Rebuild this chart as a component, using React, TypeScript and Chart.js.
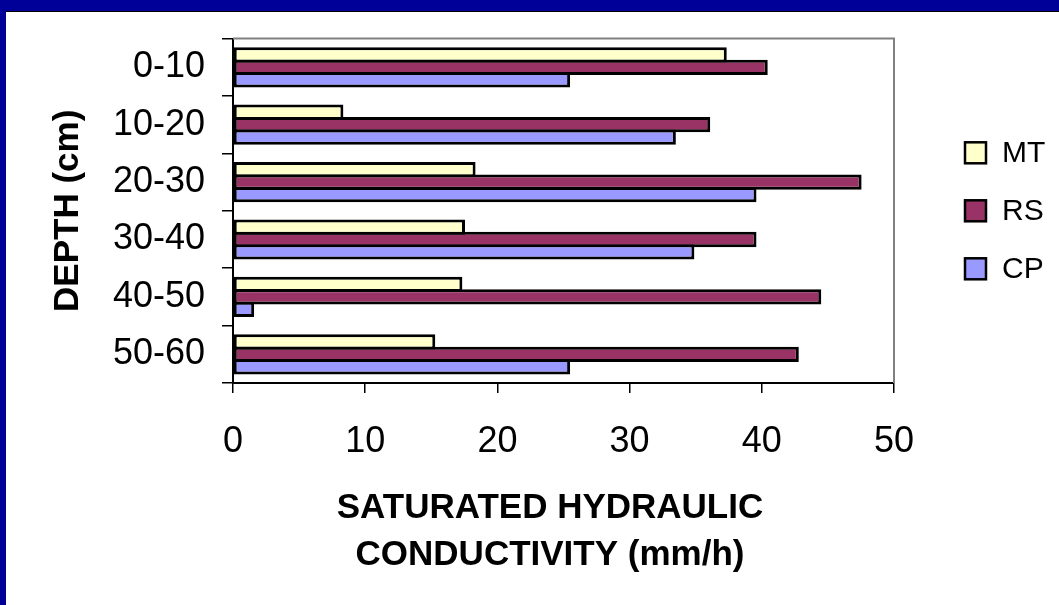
import React, { useEffect, useRef } from "react";
import { Chart, registerables } from "chart.js";

Chart.register(...registerables);

const categories = ["0-10", "10-20", "20-30", "30-40", "40-50", "50-60"];
const seriesNames = ["MT", "RS", "CP"];
const mtValues = [37.35, 8.35, 18.35, 17.55, 17.35, 15.3];
const rsValues = [40.45, 36.1, 47.55, 39.6, 44.5, 42.8];
const cpValues = [25.5, 33.5, 39.6, 34.9, 1.6, 25.5];
const xTicks = [0, 10, 20, 30, 40, 50];
const yTitle = "DEPTH (cm)";
const xTitleLines = ["SATURATED HYDRAULIC", "CONDUCTIVITY (mm/h)"];
const seriesColors = ["#FFFFCC", "#993366", "#9999FF"];

const FONT = "'Liberation Sans', Arial, Helvetica, sans-serif";

const decorPlugin = {
  id: "decor",
  beforeDatasetsDraw(chart: any) {
    const { ctx, chartArea: a } = chart;
    ctx.save();
    ctx.strokeStyle = "#808080";
    ctx.lineWidth = 2;
    ctx.beginPath();
    ctx.moveTo(a.left, a.top);
    ctx.lineTo(a.right, a.top);
    ctx.lineTo(a.right, a.bottom);
    ctx.stroke();
    ctx.restore();
  },
  afterDraw(chart: any) {
    const { ctx, chartArea: a } = chart;
    const cy = (a.top + a.bottom) / 2;
    ctx.save();
    ctx.fillStyle = "#000";
    // y axis title
    ctx.font = `bold 35px ${FONT}`;
    ctx.save();
    ctx.translate(78, cy);
    ctx.rotate(-Math.PI / 2);
    ctx.textAlign = "center";
    ctx.textBaseline = "alphabetic";
    ctx.fillText(yTitle, 0, 0);
    ctx.restore();
    // x axis title
    ctx.textAlign = "center";
    ctx.textBaseline = "alphabetic";
    xTitleLines.forEach((line, i) => {
      ctx.fillText(line, 550, 518 + i * 47);
    });
    // legend
    const ds = chart.data.datasets;
    ctx.font = `30px ${FONT}`;
    ctx.textAlign = "left";
    ctx.textBaseline = "middle";
    ds.forEach((d: any, i: number) => {
      const y = cy + (i - (ds.length - 1) / 2) * 58;
      const size = 21;
      ctx.fillStyle = d.backgroundColor;
      ctx.fillRect(965, y - size / 2, size, size);
      ctx.strokeStyle = "#000";
      ctx.lineWidth = 2.5;
      ctx.strokeRect(965, y - size / 2, size, size);
      ctx.fillStyle = "#000";
      ctx.fillText(d.label, 1002, y + 1);
    });
    ctx.restore();
  },
};

export default function App() {
  const ref = useRef<HTMLCanvasElement>(null);

  useEffect(() => {
    const values = [mtValues, rsValues, cpValues];
    const chart = new Chart(ref.current as HTMLCanvasElement, {
      type: "bar",
      data: {
        labels: categories,
        datasets: seriesNames.map((name, i) => ({
          label: name,
          data: values[i],
          backgroundColor: seriesColors[i],
          borderColor: "#000",
          borderWidth: 3,
          borderSkipped: false,
          categoryPercentage: 0.65,
          barPercentage: 1.23,
        })),
      },
      options: {
        indexAxis: "y",
        responsive: false,
        animation: false,
        layout: { padding: { left: 0, top: 38, right: 165, bottom: 0 } },
        plugins: {
          legend: { display: false },
          tooltip: { enabled: false },
          title: { display: false },
        },
        scales: {
          y: {
            type: "category",
            position: "left",
            afterFit: (s: any) => {
              s.width = 233;
            },
            grid: {
              drawOnChartArea: false,
              offset: true,
              tickLength: 11,
              color: "#000",
              lineWidth: 1.5,
            },
            border: { color: "#000", width: 2 },
            ticks: {
              color: "#000",
              font: { family: FONT, size: 36 },
              padding: 17,
              autoSkip: false,
            },
          },
          x: {
            type: "linear",
            position: "bottom",
            min: 0,
            max: 50,
            afterFit: (s: any) => {
              s.height = 222;
            },
            afterBuildTicks: (s: any) => {
              s.ticks = xTicks.map((v) => ({ value: v }));
            },
            grid: {
              drawOnChartArea: false,
              tickLength: 10,
              color: "#000",
              lineWidth: 1.5,
            },
            border: { color: "#000", width: 2 },
            ticks: {
              color: "#000",
              font: { family: FONT, size: 36 },
              padding: 27,
              autoSkip: false,
              maxRotation: 0,
            },
          },
        },
      },
      plugins: [decorPlugin],
    } as any);
    return () => chart.destroy();
  }, []);

  return (
    <div
      style={{
        position: "fixed",
        left: 0,
        top: 0,
        width: 1059,
        height: 605,
        background: "#fff",
        overflow: "hidden",
      }}
    >
      <canvas
        ref={ref}
        width={1059}
        height={605}
        style={{ position: "absolute", left: 0, top: 0, width: 1059, height: 605 }}
      />
      <div style={{ position: "absolute", left: 0, top: 0, width: 1059, height: 11, background: "#000099" }} />
      <div style={{ position: "absolute", left: 0, top: 11, width: 1059, height: 1, background: "#000" }} />
      <div style={{ position: "absolute", left: 0, top: 0, width: 6, height: 605, background: "#000099" }} />
    </div>
  );
}
